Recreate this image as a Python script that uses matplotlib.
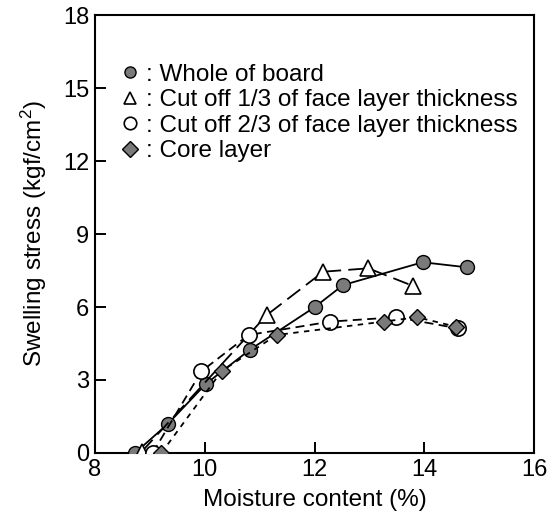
import matplotlib
matplotlib.use("Agg")
import matplotlib.pyplot as plt
from matplotlib.lines import Line2D

plt.rcParams['font.family'] = ['Liberation Sans', 'DejaVu Sans']
plt.rcParams['mathtext.default'] = 'regular'

# Swelling stress (kgf/cm2) against moisture content (%)
whole_x = [8.73, 9.33, 10.02, 10.82, 12.00, 12.52, 13.97, 14.78]
whole_y = [0.00, 1.20, 2.84, 4.24, 5.99, 6.90, 7.84, 7.63]

cut13_x = [8.85, 11.13, 12.16, 12.98, 13.80]
cut13_y = [0.05, 5.67, 7.45, 7.59, 6.86]

cut23_x = [9.05, 9.94, 10.80, 12.29, 13.49, 14.62]
cut23_y = [0.00, 3.36, 4.85, 5.40, 5.58, 5.12]

core_x = [9.21, 10.31, 11.31, 13.26, 13.87, 14.58]
core_y = [0.00, 3.37, 4.85, 5.40, 5.58, 5.19]

labels = [": Whole of board",
          ": Cut off 1/3 of face layer thickness",
          ": Cut off 2/3 of face layer thickness",
          ": Core layer"]

x_ticks = [8, 10, 12, 14, 16]
y_ticks = [0, 3, 6, 9, 12, 15, 18]

gray = '#7a7a7a'
fig = plt.figure(figsize=(5.5, 5.18), dpi=100)
ax = fig.add_axes([0.1727, 0.1255, 0.7983, 0.8455])

ax.plot(whole_x, whole_y, color='black', lw=1.3, ls='-', marker='o', ms=10,
        mfc=gray, mec='black', mew=1.0, zorder=3)
ax.plot(cut13_x, cut13_y, color='black', lw=1.3, ls=(0, (9, 4)), marker='^', ms=11,
        mfc='white', mec='black', mew=1.2, zorder=3)
ax.plot(cut23_x, cut23_y, color='black', lw=1.3, ls=(0, (5, 3)), marker='o', ms=11,
        mfc='white', mec='black', mew=1.2, zorder=4)
ax.plot(core_x, core_y, color='black', lw=1.3, ls=(0, (3, 3)), marker='D', ms=8.5,
        mfc=gray, mec='black', mew=1.0, zorder=5)

ax.set_xlim(8, 16)
ax.set_ylim(0, 18)
ax.set_xticks(x_ticks)
ax.set_yticks(y_ticks)
ax.tick_params(direction='in', length=8, width=1.4, labelsize=17, pad=4)
for s in ax.spines.values():
    s.set_linewidth(1.5)

ax.set_xlabel('Moisture content (%)', fontsize=17.5, labelpad=6)
ax.set_ylabel('Swelling stress (kgf/cm$^{2}$)', fontsize=17.5, labelpad=10)

handles = [
    Line2D([], [], ls='none', marker='o', ms=8, mfc=gray, mec='black', mew=1.0),
    Line2D([], [], ls='none', marker='^', ms=9, mfc='white', mec='black', mew=1.2),
    Line2D([], [], ls='none', marker='o', ms=9, mfc='white', mec='black', mew=1.2),
    Line2D([], [], ls='none', marker='D', ms=8, mfc=gray, mec='black', mew=1.0),
]
ax.legend(handles, labels, loc='upper left', bbox_to_anchor=(0.057, 0.889),
          frameon=False, fontsize=17.5, handlelength=0.8, handletextpad=0.27,
          labelspacing=0.145, borderaxespad=0.0, borderpad=0.0)

fig.savefig('out.png', dpi=100)
